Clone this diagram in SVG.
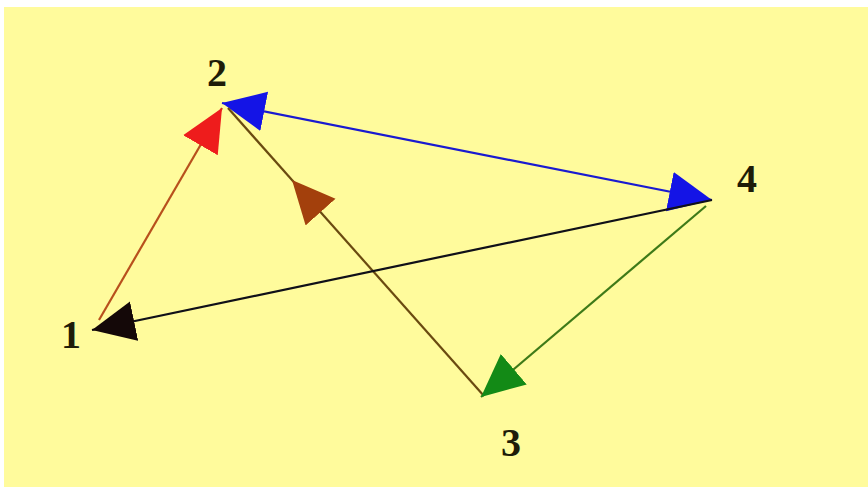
<svg xmlns="http://www.w3.org/2000/svg" width="868" height="493" viewBox="0 0 868 493">
  <style>
    .lbl { font-family: "Liberation Serif", "Times New Roman", serif; font-weight: bold; font-size: 40px; fill: #1e1c08; text-anchor: middle; }
    .edge { fill: none; stroke-width: 2.2; }
  </style>
  <defs>
    <marker id="hRed" markerUnits="userSpaceOnUse" markerWidth="46" markerHeight="42" refX="43" refY="20" orient="auto-start-reverse" viewBox="0 0 46 42">
      <path d="M0,0 L43,20 L0,40 z" fill="#ee1c1c"/>
    </marker>
    <marker id="hBlue" markerUnits="userSpaceOnUse" markerWidth="46" markerHeight="42" refX="43" refY="20" orient="auto-start-reverse" viewBox="0 0 46 42">
      <path d="M0,0 L43,20 L0,40 z" fill="#1414e6"/>
    </marker>
    <marker id="hBrown" markerUnits="userSpaceOnUse" markerWidth="46" markerHeight="42" refX="43" refY="20" orient="auto" viewBox="0 0 46 42">
      <path d="M0,0 L43,20 L0,40 z" fill="#a3400c"/>
    </marker>
    <marker id="hGreen" markerUnits="userSpaceOnUse" markerWidth="46" markerHeight="42" refX="43" refY="20" orient="auto" viewBox="0 0 46 42">
      <path d="M0,0 L43,20 L0,40 z" fill="#138a16"/>
    </marker>
    <marker id="hBlack" markerUnits="userSpaceOnUse" markerWidth="46" markerHeight="42" refX="43" refY="20" orient="auto" viewBox="0 0 46 42">
      <path d="M0,0 L43,20 L0,40 z" fill="#140808"/>
    </marker>
  </defs>
  <rect x="0" y="0" width="868" height="493" fill="#ffffff"/>
  <rect x="4" y="7" width="864" height="480" fill="#fffb9c"/>
  <g id="connectors">
    <path class="edge" d="M99,320 L222,108" stroke="#b8501c" marker-end="url(#hRed)"/>
    <path class="edge" d="M222,103 L712,200" stroke="#1a1ad0" marker-start="url(#hBlue)" marker-end="url(#hBlue)"/>
    <path class="edge" d="M484,396 L292,180 L228,108" stroke="#6a4a10" marker-mid="url(#hBrown)"/>
    <path class="edge" d="M706,206 L481,397" stroke="#3e7a18" marker-end="url(#hGreen)"/>
    <path class="edge" d="M712,200 L92,330" stroke="#101018" marker-end="url(#hBlack)"/>
  </g>
  <g id="node1"><text class="lbl" x="71" y="348">1</text></g>
  <g id="node2"><text class="lbl" x="217" y="86">2</text></g>
  <g id="node3"><text class="lbl" x="511" y="456">3</text></g>
  <g id="node4"><text class="lbl" x="747" y="192">4</text></g>
</svg>
